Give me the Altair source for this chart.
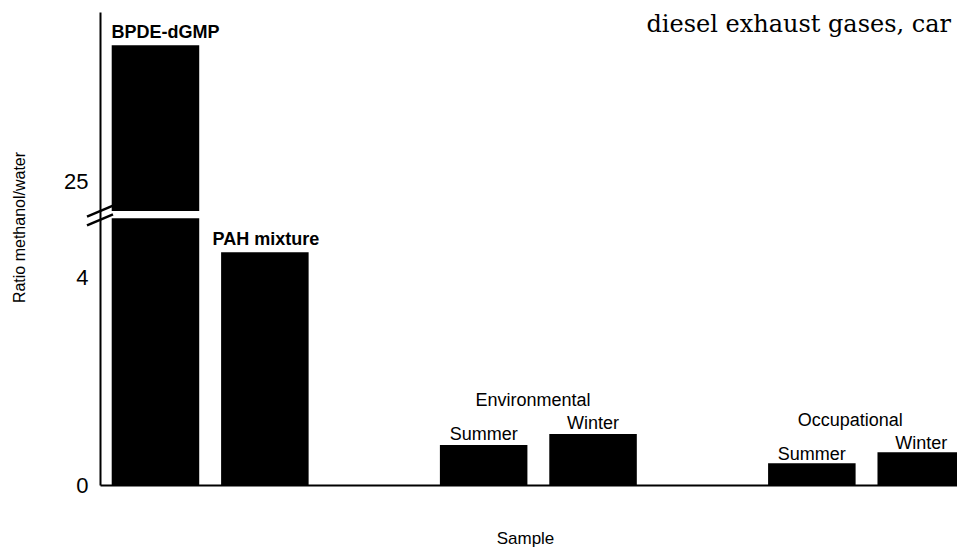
import altair as alt
import pandas as pd

# ---- data ----
samples = ["BPDE-dGMP", "PAH mixture", "Environmental Summer", "Environmental Winter",
           "Occupational Summer", "Occupational Winter"]
slots = ["BPDE-dGMP", "PAH mixture", "gap1", "Environmental Summer", "Environmental Winter",
         "gap2", "Occupational Summer", "Occupational Winter"]
ratios = [29.7, 4.48, 0.77, 0.98, 0.42, 0.63]
bar_labels = ["BPDE-dGMP", "PAH mixture", "Summer", "Winter", "Summer", "Winter"]
groups = ["", "", "Environmental", "Environmental", "Occupational", "Occupational"]
tick_values = [0, 4, 25]
page_text = ["diesel exhaust gases, car"]

# ---- broken axis definition (display units) ----
LOWER_TOP = 5.13     # top of the lower segment
UPPER_GAP = 5.27     # where the upper segment starts on screen
UPPER_START = 24     # ratio value at the start of the upper segment
UPPER_K = 0.56       # display units per ratio unit in the upper segment
Y_MAX = 9.1

def to_pos(v):
    return v if v <= LOWER_TOP else UPPER_GAP + (v - UPPER_START) * UPPER_K

POS_EXPR = (f"datum.ratio <= {LOWER_TOP} ? datum.ratio : "
            f"{UPPER_GAP} + (datum.ratio - {UPPER_START}) * {UPPER_K}")
LABEL_EXPR = (f"datum.value > {LOWER_TOP} ? format({UPPER_START} + (datum.value - {UPPER_GAP}) / {UPPER_K}, '.0f')"
              f" : format(datum.value, '.0f')")

FONT = "Liberation Sans"
PLOT_W = 857

df = pd.DataFrame({"sample": samples, "ratio": ratios, "label": bar_labels, "group": groups})
base = alt.Chart(df).transform_calculate(pos=POS_EXPR)

# the original figure is cropped at the right edge: the band range runs slightly past it
xscale = alt.Scale(domain=slots, range=[0, 865], paddingInner=0.2, paddingOuter=0.0535, align=1)
xaxis = alt.Axis(labels=False, ticks=False, grid=False, title="Sample",
                 domainColor="black", domainWidth=2, titleFont=FONT, titleFontSize=17,
                 titleFontWeight="normal", titleColor="black", titleY=53, titleX=425,
                 titleBaseline="middle", titleAlign="center")
xenc = alt.X("sample:N", scale=xscale, axis=xaxis)

yscale = alt.Scale(domain=[0, Y_MAX], nice=False, zero=True)
yaxis = alt.Axis(values=[to_pos(v) for v in tick_values], labelExpr=LABEL_EXPR,
                 ticks=False, grid=False, domainColor="black", domainWidth=2,
                 labelFont=FONT, labelFontSize=22, labelColor="black", labelPadding=12,
                 title="Ratio methanol/water", titleFont=FONT, titleFontSize=16,
                 titleFontWeight="normal", titleColor="black", titleAngle=270,
                 titleX=-81, titleY=215, titleAlign="center", titleBaseline="middle")

def yenc(field):
    return alt.Y(field, scale=yscale, axis=yaxis)

lower = base.transform_calculate(lowtop=f"min(datum.pos, {LOWER_TOP})").mark_bar(
    color="black").encode(x=xenc, y=yenc("lowtop:Q"), y2=alt.datum(0))

upper = base.transform_filter(f"datum.ratio > {LOWER_TOP}").mark_bar(color="black").encode(
    x=xenc, y=yenc("pos:Q"), y2=alt.datum(UPPER_GAP))

txt = dict(font=FONT, fontSize=18, color="black", baseline="alphabetic", align="center")

lab_bpde = base.transform_filter("datum.sample == 'BPDE-dGMP'").mark_text(
    fontWeight="bold", dx=10, dy=-7, **txt).encode(x=xenc, y=yenc("pos:Q"), text="label:N")
lab_pah = base.transform_filter("datum.sample == 'PAH mixture'").mark_text(
    fontWeight="bold", dx=1, dy=-7, **txt).encode(x=xenc, y=yenc("pos:Q"), text="label:N")
lab_env = base.transform_filter("datum.group == 'Environmental'").mark_text(
    dy=-5, **txt).encode(x=xenc, y=yenc("pos:Q"), text="label:N")
lab_occ = base.transform_filter("datum.group == 'Occupational'").mark_text(
    dy=-3, **txt).encode(x=xenc, y=yenc("pos:Q"), text="label:N")

grp_env = base.transform_filter("datum.sample == 'Environmental Winter'").mark_text(
    dx=-60, dy=-28, **txt).encode(x=xenc, y=yenc("pos:Q"), text="group:N")
grp_occ = base.transform_filter("datum.sample == 'Occupational Winter'").mark_text(
    dx=-71, dy=-26, **txt).encode(x=xenc, y=yenc("pos:Q"), text="group:N")

# break marks on the axis
breaks = alt.Chart(pd.DataFrame({"edge": [LOWER_TOP - 0.03, UPPER_GAP]})).transform_calculate(
    y0="datum.edge - 0.106", y1="datum.edge + 0.106").mark_rule(
    color="black", strokeWidth=2.5).encode(
    x=alt.value(-13), x2=alt.value(13), y=yenc("y0:Q"), y2="y1:Q")

# fragment of the surrounding page text at the top
page = alt.Chart(pd.DataFrame({"t": page_text})).mark_text(
    font="DejaVu Serif", fontSize=24, color="black", align="right",
    baseline="alphabetic").encode(x=alt.value(851), y=alt.value(20), text="t:N")

chart = alt.layer(lower, upper, lab_bpde, lab_pah, lab_env, lab_occ, grp_env, grp_occ,
                  breaks, page).properties(
    width=PLOT_W, height=473,
    padding={"left": 92, "top": 4, "right": 0, "bottom": 67},
    autosize=alt.AutoSizeParams(type="none"),
    background="white",
).configure_view(stroke="transparent", strokeWidth=0)

chart.save("out.html", embed_options={"renderer": "svg", "actions": False})
